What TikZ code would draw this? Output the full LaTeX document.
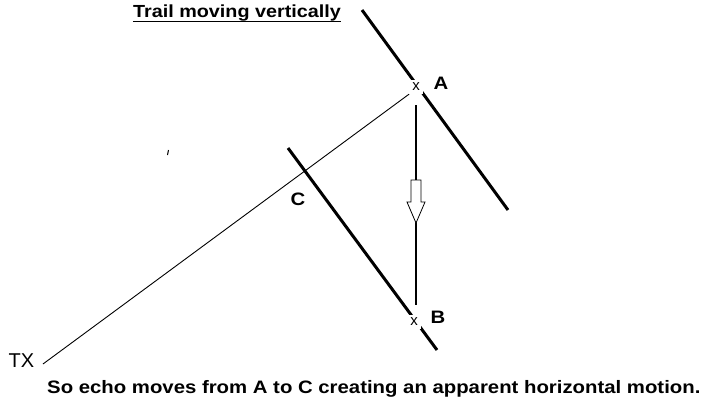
\documentclass[tikz,border=0pt]{standalone}
\usepackage{fontspec}
\setmainfont{Liberation Sans}
\newfontfamily\wide[FakeStretch=1.13]{Liberation Sans}
\begin{document}
\begin{tikzpicture}[x=1pt,y=-1pt,
  trail/.style={line width=3pt},
  ray/.style={line width=0.9pt},
  xmark/.style={fill=white,inner sep=3pt,font=\fontsize{15}{15}\selectfont},
  lbl/.style={inner sep=0pt,font=\wide\bfseries\fontsize{18}{18}\selectfont}]
\useasboundingbox (0,0) rectangle (706,399);
% title
\node[lbl,anchor=base,font=\wide\bfseries\fontsize{17.5}{17.5}\selectfont] (title) at (237,17) {Trail moving vertically};
\draw[line width=1.6pt] ([yshift=-4.5pt]title.base west) -- ([yshift=-4.5pt]title.base east);
% trails
\coordinate (ta1) at (362,10);
\coordinate (ta2) at (508,210);
\coordinate (tc1) at (288,148);
\coordinate (tc2) at (437,350);
\draw[trail] (ta1) -- (ta2);
\draw[trail] (tc1) -- (tc2);
% echo points
\node[xmark] (xa) at (416,87) {x};
\node[xmark] (xb) at (414,322) {x};
% TX
\node[inner sep=0pt,font=\fontsize{20}{20}\selectfont] (tx) at (21.5,361) {TX};
\coordinate (t0) at ([xshift=8.5pt,yshift=-3pt]tx.east);
\draw[ray] (t0) -- (xa.south west);
% vertical motion
\draw[line width=1.1pt,shorten <=18pt,shorten >=17pt] (xa.center) -- (xa.center |- xb.center);
% hollow arrow
\draw[line width=0.8pt,fill=white] (411,180) -- (421,180) -- (421,202) -- (425,202) -- (416,223) -- (407,202) -- (411,202) -- cycle;
% labels
\node[lbl] (la) at (441,83) {A};
\node[lbl] (lb) at (438,317) {B};
\node[lbl] (lc) at (298,199) {C};
% small stray mark
\draw[line width=1pt] (168.5,150) -- (167.5,155);
% caption
\node[lbl,anchor=base west] (cap) at (47,393) {So echo moves from A to C creating an apparent horizontal motion.};
\end{tikzpicture}
\end{document}
